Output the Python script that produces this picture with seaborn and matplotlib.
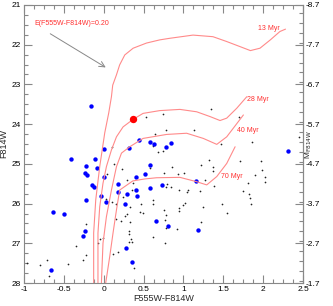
import numpy as np
import pandas as pd
import matplotlib
matplotlib.use("Agg")
import matplotlib.pyplot as plt
import seaborn as sns
from matplotlib.ticker import MultipleLocator

# blue stars (colour, F814W)
blue_x = [-0.164, 0.0, -0.415, -0.113, -0.226, -0.088, -0.235, -0.214, 0.0, -0.151,
          -0.126, 0.185, 0.444, 0.582, 0.839, 0.633, 0.780, 0.318, 0.575, 0.516,
          0.406, 0.726, 0.575, 1.157, 2.308, -0.038, 0.176, -0.226, 0.029, -0.642,
          -0.499, -0.235, -0.255, -0.658, 0.289, 0.399, 0.415, 0.264, 0.654, 0.809,
          1.182, 0.283, 0.352]
blue_y = [23.54, 24.63, 24.88, 24.87, 25.06, 25.10, 25.24, 25.28, 25.32, 25.54,
          25.58, 25.51, 24.40, 24.44, 24.48, 24.51, 24.58, 24.59, 25.02, 25.26,
          25.32, 25.53, 25.60, 25.43, 24.68, 25.82, 25.71, 25.91, 25.97, 26.20,
          26.26, 26.69, 26.82, 27.68, 25.75, 25.67, 25.80, 26.01, 26.45, 26.57,
          26.67, 27.12, 27.47]

# field stars
field_x = [0.746, 0.532, 1.346, 1.692, 0.642, 0.776, 1.136, 0.10, 0.623, 0.679,
           0.742, 1.465, 1.862, 2.453, 1.321, 1.224, 1.704, 1.969, 0.132, 0.233,
           0.852, 1.377, 1.365, 0.579, 1.013, 0.937, 0.755, 0.047, 1.981, 1.893,
           2.021, 1.270, 2.021, 1.380, 1.811, 0.289, 0.365, 0.849, 0.950, 0.799,
           0.786, 1.063, 1.211, 0.356, 1.752, 1.828, 1.840, 1.849, 1.040, 1.015,
           1.0, 1.481, 1.249, 0.943, 0.943, 1.551, 0.755, 0.776, 0.764, 1.220,
           0.922, 0.776, 0.767, 0.109, 0.336, 0.298, 0.465, 0.453, 0.499, 0.616,
           0.620, 0.264, 0.214, 0.160, 0.327, 0.314, 0.314, 0.613, 0.340, 0.356,
           0.318, 0.117, 0.176, 0.377, 0.029, 0.155, -0.218, -0.343, -0.255, -0.218,
           -0.444, -0.708, -0.805, -0.96, -0.688, -0.067, -0.05, -0.006, 0.243]
field_y = [23.75, 23.81, 23.62, 23.81, 24.26, 24.15, 24.16, 24.57, 24.54, 24.70,
           24.68, 24.51, 24.46, 24.32, 24.90, 25.02, 24.94, 24.94, 25.00, 25.12,
           25.09, 25.09, 25.17, 25.11, 25.23, 25.26, 25.22, 25.25, 25.16, 25.29,
           25.33, 25.40, 25.46, 25.57, 25.48, 25.40, 25.47, 25.59, 25.65, 25.50,
           25.58, 25.67, 25.69, 25.67, 25.69, 25.77, 25.87, 26.02, 25.70, 25.98,
           26.04, 26.02, 26.08, 26.11, 26.18, 26.23, 26.16, 26.29, 26.42, 26.47,
           26.63, 26.62, 26.99, 25.97, 26.08, 26.27, 26.02, 26.21, 26.24, 25.91,
           26.02, 26.31, 26.44, 26.39, 26.47, 26.69, 26.77, 26.85, 26.90, 26.97,
           26.97, 27.28, 27.22, 27.61, 25.89, 26.00, 26.52, 27.08, 27.43, 27.30,
           27.52, 27.41, 27.55, 27.50, 27.82, 27.00, 26.88, 26.87, 25.83]

# highlighted star
red_x = [0.369]
red_y = [23.87]

# isochrones
iso13_x = [-0.126, -0.126, -0.10, -0.05, 0.013, 0.063, 0.097, 0.113, 0.16, 0.20,
           0.264, 0.369, 0.537, 0.704, 0.83, 1.12, 1.37, 1.54, 1.71, 1.84,
           1.96, 2.09, 2.21, 2.28]
iso13_y = [28.0, 26.74, 25.91, 25.07, 24.22, 23.72, 23.31, 23.02, 22.76, 22.51,
           22.26, 22.09, 21.96, 21.88, 21.84, 21.76, 21.80, 21.92, 22.05, 22.15,
           22.09, 21.88, 21.67, 21.61]
iso28_x = [-0.072, -0.072, -0.05, -0.009, 0.034, 0.097, 0.16, 0.243, 0.369, 0.494,
           0.704, 0.956, 1.166, 1.333, 1.459, 1.543, 1.669, 1.795]
iso28_y = [28.0, 26.74, 26.08, 25.49, 25.07, 24.65, 24.32, 24.07, 23.88, 23.73,
           23.66, 23.63, 23.69, 23.81, 23.91, 23.85, 23.60, 23.31]
iso40_x = [-0.029, -0.009, 0.034, 0.097, 0.16, 0.223, 0.327, 0.494, 0.789, 1.04,
           1.249, 1.418, 1.543, 1.752]
iso40_y = [28.0, 27.0, 26.33, 25.66, 25.07, 24.73, 24.57, 24.36, 24.26, 24.23,
           24.36, 24.51, 24.32, 23.77]
iso70_x = [0.025, 0.075, 0.117, 0.16, 0.20, 0.365, 0.516, 0.663, 0.956, 1.166,
           1.292, 1.418, 1.543, 1.648]
iso70_y = [28.0, 27.34, 26.74, 26.16, 25.66, 25.43, 25.38, 25.35, 25.34, 25.45,
           25.53, 25.32, 24.99, 24.57]
iso_labels = ["13 Myr", "28 Myr", "40 Myr", "70 Myr"]
iso_label_x = [1.94, 1.795, 1.67, 1.468]
iso_label_y = [21.6, 23.39, 24.15, 25.32]

dist_mod = 29.7

sns.set_style("ticks")
plt.rcParams['font.family'] = ['Liberation Sans', 'DejaVu Sans']

fig = plt.figure(figsize=(3.33, 3.06), dpi=100)
ax = fig.add_axes([0.072, 0.075, 0.838, 0.909])

iso_col = "#ff8a8a"
for xs, ys in [(iso13_x, iso13_y), (iso28_x, iso28_y), (iso40_x, iso40_y), (iso70_x, iso70_y)]:
    sns.lineplot(x=xs, y=ys, sort=False, estimator=None, color=iso_col, lw=0.8, ax=ax)
for lab, lx, ly in zip(iso_labels, iso_label_x, iso_label_y):
    ax.text(lx, ly, lab, color="#ff3030", fontsize=5, va="center", ha="left")

sns.scatterplot(x=field_x, y=field_y, color="#222222", s=1.5, linewidth=0, ax=ax)
sns.scatterplot(x=blue_x, y=blue_y, color="#0000ff", s=10, linewidth=0, ax=ax)
sns.scatterplot(x=red_x, y=red_y, color="#ff0000", s=28, linewidth=0, ax=ax, zorder=5)

# reddening arrow
ax.annotate("", xy=(0.055, 22.61), xytext=(-0.70, 21.69),
            arrowprops=dict(arrowstyle="->", color="#888888", lw=0.7))
ax.text(-0.87, 21.46, "E(F555W-F814W)=0.20", color="#ff3030", fontsize=5, va="center")

ax.set_xlim(-1, 2.5)
ax.set_ylim(28, 21)
ax.xaxis.set_minor_locator(MultipleLocator(0.125))
ax.yaxis.set_major_locator(MultipleLocator(1))
ax.yaxis.set_minor_locator(MultipleLocator(0.25))
ax.set_xticks([-1, -0.5, 0, 0.5, 1, 1.5, 2, 2.5])
ax.set_xticklabels(["-1", "-0.5", "0", "0.5", "1", "1.5", "2", "2.5"])
ax.tick_params(which="both", direction="in", top=True, right=False, colors="#888888",
               labelcolor="black", labelsize=6, width=0.8, pad=2)
ax.tick_params(which="major", length=6)
ax.tick_params(which="minor", length=3)
for sp in ax.spines.values():
    sp.set_color("#888888")
    sp.set_linewidth(0.8)

ax.set_xlabel("F555W-F814W", fontsize=6.5, labelpad=1)
ax.set_ylabel("F814W", fontsize=6.5)
ax.yaxis.set_label_coords(-0.058, 0.5)

sec = ax.secondary_yaxis("right", functions=(lambda m: m - dist_mod, lambda M: M + dist_mod))
sec.set_yticks([-8.7, -7.7, -6.7, -5.7, -4.7, -3.7, -2.7, -1.7])
sec.set_yticklabels(["-8.7", "-7.7", "-6.7", "-5.7", "-4.7", "-3.7", "-2.7", "-1.7"])
sec.yaxis.set_minor_locator(MultipleLocator(0.25))
sec.tick_params(which="both", direction="in", colors="#888888", labelcolor="black",
                labelsize=6, width=0.8, pad=2)
sec.tick_params(which="major", length=6)
sec.tick_params(which="minor", length=3)
sec.spines["right"].set_color("#888888")
sec.set_ylabel("M$_{\\mathrm{F814W}}$", fontsize=6)
sec.yaxis.set_label_coords(1.088, 0.5)

fig.savefig("out.png", dpi=100)
